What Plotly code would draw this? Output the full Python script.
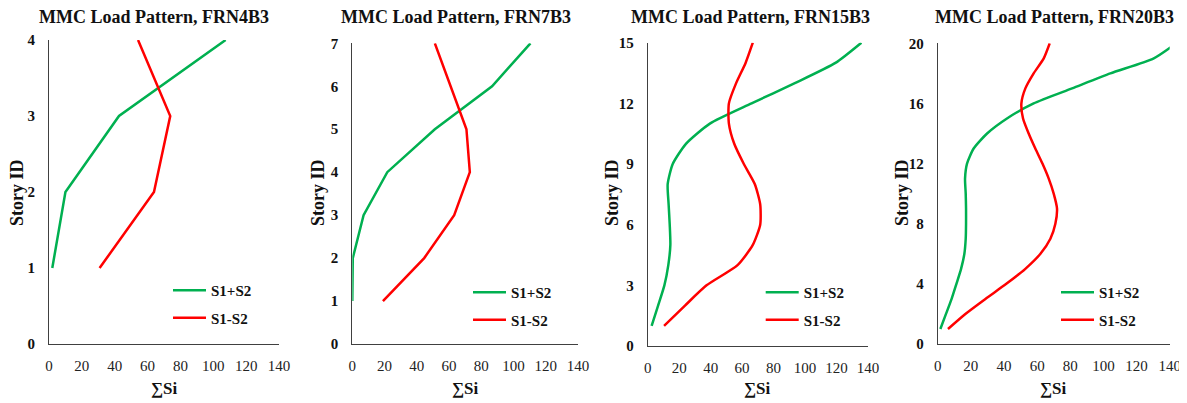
import plotly.graph_objects as go

# The page body adds an 8px margin, so the figure is drawn 8px smaller and
# all reference pixel positions are shifted by OFF.
OFF = 8
W, H = 1187 - OFF, 403 - OFF

titles = ["MMC Load Pattern, FRN4B3", "MMC Load Pattern, FRN7B3",
          "MMC Load Pattern, FRN15B3", "MMC Load Pattern, FRN20B3"]

story_4 = [1, 2, 3, 4]
plus_4 = [2.0, 10.0, 42.6, 107.5]
minus_4 = [30.8, 63.9, 73.8, 54.2]

story_7 = [1, 2, 3, 4, 5, 6, 7]
plus_7 = [0.0, 0.3, 7.0, 21.7, 51.2, 86.7, 110.5]
minus_7 = [19.0, 44.6, 63.2, 72.9, 70.8, 61.1, 51.2]

story_15 = list(range(1, 16))
plus_15 = [2.5, 6.6, 10.6, 13.1, 14.4, 14.0, 13.3, 12.7, 15.9, 24.3, 39.5, 66.0, 93.5, 119.3, 135.8]
minus_15 = [10.4, 23.7, 37.4, 57.1, 66.8, 71.5, 71.5, 68.1, 61.1, 55.0, 51.6, 51.6, 56.2, 62.2, 66.8]

story_20 = list(range(1, 21))
plus_20 = [1.6, 5.0, 8.4, 11.3, 14.1, 16.1, 16.9, 17.1, 17.1, 16.9, 16.5, 17.7, 21.7, 29.8, 41.8,
           57.9, 81.1, 104.2, 130.4, 143.9]
minus_20 = [6.2, 16.7, 28.8, 41.4, 52.9, 62.0, 68.0, 71.0, 72.0, 70.0, 67.0, 63.2, 58.9, 54.9, 51.5,
            50.5, 52.9, 57.9, 64.0, 67.6]

x_ticks = [0, 20, 40, 60, 80, 100, 120, 140]
y_ranges = [4, 7, 15, 20]
y_dticks = [1, 1, 3, 4]

series_names = ["S1+S2", "S1-S2"]
colors = ["#00B050", "#FF0000"]

panels = [
    (story_4, plus_4, minus_4, "linear"),
    (story_7, plus_7, minus_7, "linear"),
    (story_15, plus_15, minus_15, "spline"),
    (story_20, plus_20, minus_20, "spline"),
]

# reference pixel layout of each panel: (x_left, x_right, y_top, y_bottom)
px_boxes = [(49, 279, 40, 344), (352.3, 578, 43.3, 344),
            (647.7, 868, 42.7, 346), (937.7, 1169.7, 43.3, 344)]
title_cx = [154, 455.5, 750.5, 1054]
ytitle_cx = [17, 318, 612, 902]
legend_x = [174, 474, 766.7, 1062]
legend_y = [286, 288, 288, 288]

FONT = "Liberation Serif"


def px(x):
    return (x - OFF) / W


def py(y):
    return 1 - (y - OFF) / H


fig = go.Figure()
annotations = []
for i, (st, p, m, shape) in enumerate(panels):
    k = "" if i == 0 else str(i + 1)
    lg = "legend" if i == 0 else f"legend{i + 1}"
    for j, vals in enumerate([p, m]):
        fig.add_trace(go.Scatter(
            x=vals, y=st, mode="lines", name="<b>" + series_names[j] + "</b>",
            line=dict(color=colors[j], width=2.5, shape=shape, smoothing=0.6),
            xaxis="x" + k, yaxis="y" + k, legend=lg,
            legendgroup=f"g{i}{j}", showlegend=True,
        ))
    xl, xr, yt, yb = px_boxes[i]
    fig.layout["xaxis" + k] = dict(
        domain=[px(xl), px(xr)], range=[0, 140], tickvals=x_ticks, automargin=False,
        showgrid=False, zeroline=False, showline=True, linecolor="#404040", linewidth=1,
        ticks="", ticklabelstandoff=8, anchor="y" + k,
        tickfont=dict(family=FONT, size=15, color="#222"),
    )
    fig.layout["yaxis" + k] = dict(
        domain=[py(yb), py(yt)], range=[0, y_ranges[i]], dtick=y_dticks[i],
        tick0=0, showgrid=False, zeroline=False, showline=True, linecolor="#404040",
        linewidth=1, ticks="", ticklabelstandoff=10, anchor="x" + k, automargin=False,
        tickprefix="<b>", ticksuffix="</b>",
        tickfont=dict(family=FONT, size=15, color="#111"),
    )
    annotations.append(dict(
        text="<b>" + titles[i] + "</b>", x=px(title_cx[i]), y=py(17),
        xref="paper", yref="paper", showarrow=False, xanchor="center", yanchor="middle",
        font=dict(family=FONT, size=18, color="#111"),
    ))
    annotations.append(dict(
        text="<b>Story ID</b>", x=px(ytitle_cx[i]), y=py(193), textangle=-90,
        xref="paper", yref="paper", showarrow=False, xanchor="center", yanchor="middle",
        font=dict(family=FONT, size=18, color="#111"),
    ))
    annotations.append(dict(
        text="<b>∑Si</b>", x=px((xl + xr) / 2), y=py(388),
        xref="paper", yref="paper", showarrow=False, xanchor="center", yanchor="middle",
        font=dict(family=FONT, size=17, color="#111"),
    ))
    fig.layout[lg] = dict(
        x=px(legend_x[i] - 6), y=py(legend_y[i] - 12), xanchor="left", yanchor="top",
        bgcolor="rgba(0,0,0,0)", tracegroupgap=5, itemwidth=33,
        font=dict(family=FONT, size=15, color="#111"),
    )

fig.update_layout(
    width=W, height=H, margin=dict(l=0, r=0, t=0, b=0),
    paper_bgcolor="white", plot_bgcolor="white",
    font=dict(family=FONT, color="#111"),
    annotations=annotations, showlegend=True,
)

fig.write_html("out.html")
